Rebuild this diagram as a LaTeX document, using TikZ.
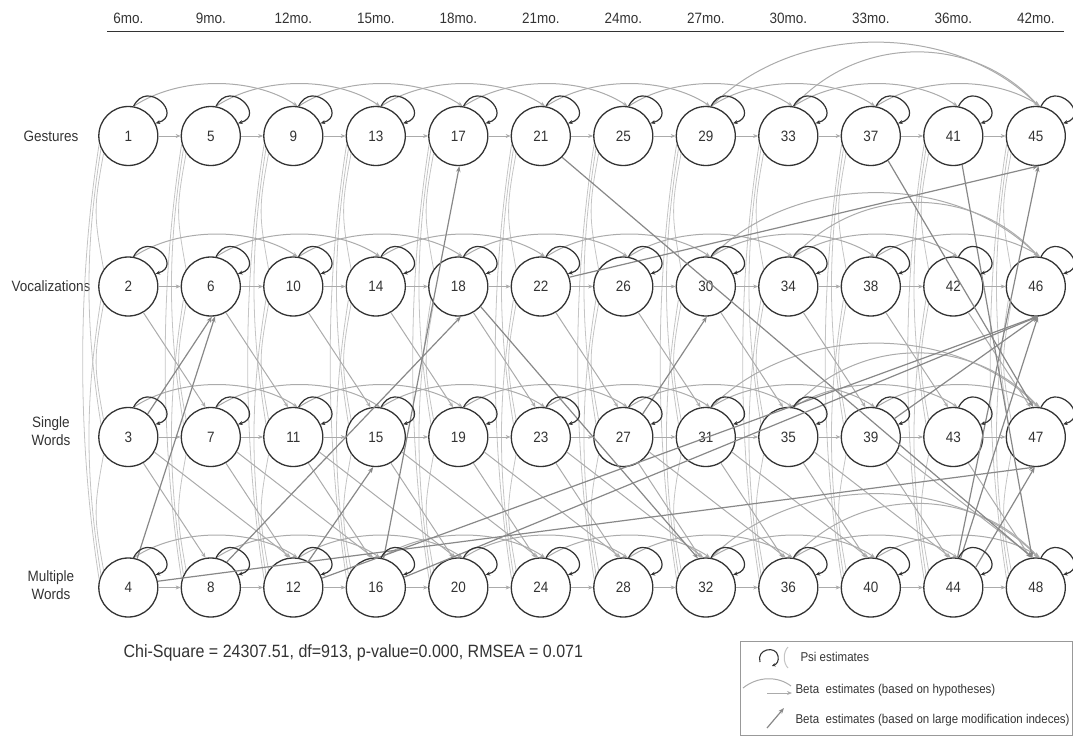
\documentclass[tikz,border=0pt]{standalone}
\usepackage{fontspec}
\setmainfont{Liberation Sans}[FakeStretch=0.9]
\usetikzlibrary{arrows.meta}
\definecolor{lg}{HTML}{ABABAB}
\definecolor{cv}{HTML}{C4C4C4}
\definecolor{mg}{HTML}{888888}
\definecolor{dk}{HTML}{333333}
\definecolor{bx}{HTML}{999999}
\begin{document}
\begin{tikzpicture}[x=1pt,y=-1pt,
  varnode/.style={circle, draw=dk, line width=1.3pt, minimum size=59pt, inner sep=0pt, font=\fontsize{15}{17}\selectfont, text=dk},
  hyp/.style={draw=lg, line width=1pt, -{Stealth[length=5pt,width=4pt]}},
  modi/.style={draw=mg, line width=1.2pt, -{Stealth[length=6pt,width=4.5pt]}},
  psiloop/.style={draw=dk, line width=1.2pt, -{Stealth[length=4.5pt,width=4pt]}},
  cov/.style={draw=cv, line width=0.8pt},
  hdr/.style={font=\fontsize{15}{17}\selectfont, text=dk},
  rowlab/.style={font=\fontsize{15}{18.5}\selectfont, text=dk, align=center},
  leg/.style={font=\fontsize{12.8}{15}\selectfont, text=dk, anchor=west}
]
\useasboundingbox (0,0) rectangle (1073,736);
% header
\foreach \c/\t in {0/6mo., 1/9mo., 2/12mo., 3/15mo., 4/18mo., 5/21mo., 6/24mo., 7/27mo., 8/30mo., 9/33mo., 10/36mo., 11/42mo.}{
  \node[hdr] (h\c) at ({128.3+82.5*\c},18) {\t};
}
\draw[dk, line width=1.4pt] (107,31.5) -- (1064,31.5);
% row labels
\node[rowlab] (rl1) at (51,136) {Gestures};
\node[rowlab] (rl2) at (51,286.5) {Vocalizations};
\node[rowlab] (rl3) at (51,431) {Single\\Words};
\node[rowlab] (rl4) at (51,585) {Multiple\\Words};
% nodes
\foreach \c in {0,...,11}{
  \foreach \r in {0,...,3}{
    \pgfmathtruncatemacro\k{4*\c+\r+1}
    \node[varnode] (n\k) at ({128.3+82.5*\c},{136+150.5*\r}) {\k};
  }
}
% covariance curves
\foreach \c in {0,...,11}{
  \foreach \r/\s/\sa/\ea/\dx/\dy in {0/1/215/145/10/55, 0/2/205/155/16/100, 0/3/195/165/22/140, 1/2/215/145/10/55, 1/3/205/155/16/100, 2/3/215/145/10/55}{
    \pgfmathtruncatemacro\a{4*\c+\r+1}
    \pgfmathtruncatemacro\b{4*\c+\s+1}
    \draw[cov] (n\a.\sa) .. controls +(-\dx,\dy) and +(-\dx,-\dy) .. (n\b.\ea);
  }
}
% horizontal arrows
\foreach \c in {0,...,10}{
  \foreach \r in {0,...,3}{
    \pgfmathtruncatemacro\a{4*\c+\r+1}
    \pgfmathtruncatemacro\b{\a+4}
    \draw[hyp] (n\a) -- (n\b);
  }
}
% lag-2 arcs
\foreach \c in {0,...,9}{
  \foreach \r in {0,...,3}{
    \pgfmathtruncatemacro\a{4*\c+\r+1}
    \pgfmathtruncatemacro\b{\a+8}
    \draw[hyp] (n\a.80) .. controls +(45,-30) and +(-45,-30) .. (n\b.82);
  }
}
% long arcs to last column
\foreach \r in {0,...,3}{
  \pgfmathtruncatemacro\a{29+\r}
  \pgfmathtruncatemacro\aa{33+\r}
  \pgfmathtruncatemacro\b{45+\r}
  \draw[hyp] (n\a.80) .. controls +(85,-85) and +(-85,-85) .. (n\b.85);
  \draw[hyp] (n\aa.80) .. controls +(65,-72) and +(-65,-72) .. (n\b.85);
}
% cross-lagged (hypotheses)
\foreach \c in {0,...,10}{
  \pgfmathtruncatemacro\a{4*\c+2}
  \pgfmathtruncatemacro\b{\a+5}
  \draw[hyp] (n\a.-60) -- (n\b.100);
  \pgfmathtruncatemacro\aa{4*\c+3}
  \pgfmathtruncatemacro\bb{\aa+5}
  \draw[hyp] (n\aa.-60) -- (n\bb.100);
}
\foreach \c in {0,...,9}{
  \pgfmathtruncatemacro\a{4*\c+3}
  \pgfmathtruncatemacro\b{\a+9}
  \draw[hyp] (n\a.-30) -- (n\b.95);
}
% modification-index arrows
\draw[modi] (n3.50) -- (n6.-88);
\draw[modi] (n4.73) -- (n6.-82);
\draw[modi] (n8.58) -- (n18.-85);
\draw[modi] (n12.60) -- (n15.-95);
\draw[modi] (n16.75) -- (n17.-88);
\draw[modi] (n18.-42) -- (n32.105);
\draw[modi] (n21.-45) -- (n48.97);
\draw[modi] (n22.18) -- (n45.-85);
\draw[modi] (n27.50) -- (n30.-88);
\draw[modi] (n37.-55) -- (n47.95);
\draw[modi] (n41.-73) -- (n48.97);
\draw[modi] (n4.12) -- (n47.-92);
\draw[modi] (n16.20) -- (n46.-86);
\draw[modi] (n12.18) -- (n46.-88);
\draw[modi] (n39.38) -- (n46.-86);
\draw[modi] (n44.82) -- (n45.-85);
\draw[modi] (n44.76) -- (n46.-86);
\draw[modi] (n44.42) -- (n47.-92);
% psi loops
\foreach \k in {1,...,48}{
  \draw[psiloop] (n\k.80) .. controls +(14,-28) and +(28,-8) .. (n\k.25);
}
% fit statistics
\node[font=\fontsize{17.8}{20}\selectfont, text=dk, anchor=west] (chi) at (120,653) {Chi-Square = 24307.51, df=913, p-value=0.000, RMSEA = 0.071};
% legend
\draw[bx, line width=0.8pt] (740,641) rectangle (1072,735);
\draw[dk, line width=1.1pt, -{Stealth[length=3.5pt,width=3.5pt]}] (760,662) .. controls (756,649) and (776,645) .. (778,656) .. controls (779,661) and (777,664) .. (772,666);
\draw[cv, line width=1pt] (788,647) .. controls (783,652) and (783,663) .. (788,668);
\node[leg] (l1) at (797,657) {Psi estimates};
\draw[lg, line width=1pt] (743,688) .. controls (758,676) and (778,676) .. (791,686);
\draw[hyp] (767,693) -- (792,693);
\node[leg] (l2) at (792,690) {Beta\ \ estimates (based on hypotheses)};
\draw[modi] (767,728) -- (784,708);
\node[leg] (l3) at (792,720) {Beta\ \ estimates (based on large modification indeces)};
\end{tikzpicture}
\end{document}
